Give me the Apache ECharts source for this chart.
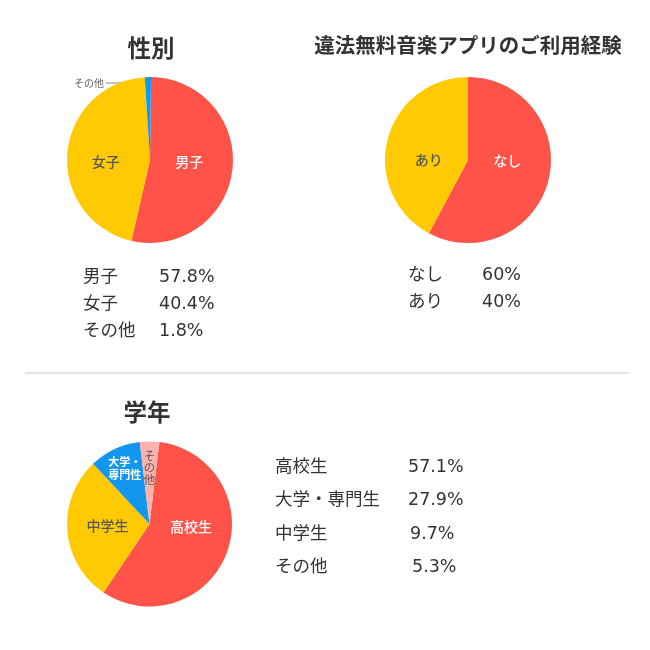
<!DOCTYPE html>
<html><head><meta charset="utf-8">
<script src="https://cdn.jsdelivr.net/npm/echarts@6/dist/echarts.min.js"></script>
<style>html,body{margin:0;padding:0;background:#fff}#c{width:650px;height:650px}</style>
</head><body><div id="c"></div>
<script>
// ---- data ----
const genderPieNames = ['男子', '女子', 'その他'];
const genderPieValues = [53.4, 45.4, 1.2];
const appPieNames = ['なし', 'あり'];
const appPieValues = [57.8, 42.2];
const gradePieNames = ['高校生', '中学生', '大学・\n専門性', 'そ\nの\n他'];
const gradePieValues = [57.5, 28.6, 10.1, 3.8];

const genderLabels = ['男子', '女子', 'その他'];
const genderPct = ['57.8%', '40.4%', '1.8%'];
const appLabels = ['なし', 'あり'];
const appPct = ['60%', '40%'];
const gradeLabels = ['高校生', '大学・専門生', '中学生', 'その他'];
const gradePct = ['57.1%', '27.9%', '9.7%', '5.3%'];

const titles = ['性別', '違法無料音楽アプリのご利用経験', '学年'];

// ---- style ----
const FF = '"Noto Sans CJK JP", "Noto Sans", sans-serif';
const FT = '"DejaVu Sans", "Noto Sans CJK JP", sans-serif';
const RED = '#FF5249', YEL = '#FFCA03', BLUE = '#1397EE', PINK = '#FFB1AE';
const DARK = '#333333', GRAY = '#585858';

const chart = echarts.init(document.getElementById('c'));

function txt(t, x, y, size, weight, align, family) {
  return { type: 'text', x: x, y: y, silent: true,
    style: { text: t, fontSize: size, fontWeight: weight, fontFamily: family || FF, fill: DARK,
      align: align || 'left', verticalAlign: 'middle' } };
}

const graphics = [];
graphics.push(txt(titles[0], 151, 48, 23.5, 'bold', 'center'));
graphics.push(txt(titles[1], 468, 45, 20.5, 'bold', 'center'));
graphics.push(txt(titles[2], 147, 412, 23.5, 'bold', 'center'));
genderLabels.forEach((l, i) => {
  graphics.push(txt(l, 83, 277 + i * 27, 17.5, 'normal', 'left', FT));
  graphics.push(txt(genderPct[i], 159, 277 + i * 27, 17.5, 'normal', 'left', FT));
});
appLabels.forEach((l, i) => {
  graphics.push(txt(l, 408, 275 + i * 27, 17.5, 'normal', 'left', FT));
  graphics.push(txt(appPct[i], 482, 275 + i * 27, 17.5, 'normal', 'left', FT));
});
const gradePctX = [408, 408, 410, 412];
gradeLabels.forEach((l, i) => {
  graphics.push(txt(l, 275, 467 + i * 33.5, 17.5, 'normal', 'left', FT));
  graphics.push(txt(gradePct[i], gradePctX[i], 467 + i * 33.5, 17.5, 'normal', 'left', FT));
});
graphics.push({ type: 'rect', shape: { x: 25, y: 372, width: 604, height: 2 }, style: { fill: '#e6e6e6' }, silent: true });

const base = { type: 'pie', animation: false, silent: true, clockwise: true,
  itemStyle: { borderWidth: 0 },
  label: { show: true, position: 'inside', fontFamily: FF, fontSize: 14, fontWeight: 500 },
  labelLine: { show: false }, emphasis: { disabled: true } };

function shift(offsets) {
  return function (p) {
    const d = offsets[p.dataIndex];
    return d ? { dx: d[0], dy: d[1] } : {};
  };
}

chart.setOption({
  backgroundColor: '#fff',
  graphic: graphics,
  series: [
    Object.assign({}, base, {
      center: [150, 160], radius: 83, startAngle: 89.3,
      data: genderPieNames.map((n, i) => ({
        name: n, value: genderPieValues[i],
        itemStyle: { color: [RED, YEL, BLUE][i] },
        label: i === 2
          ? { position: 'outside', fontSize: 10, fontWeight: 'normal', color: '#666', formatter: '{b}' }
          : { color: i === 0 ? '#fff' : GRAY, formatter: '{b}' },
        labelLine: i === 2 ? { show: true, lineStyle: { color: '#888', width: 1 } } : { show: false }
      })),
      labelLayout: function (p) {
        if (p.dataIndex !== 2) return shift([[-5, -4], [0, 5]])(p);
        if (!p.labelLinePoints) return {};
        const a = p.labelLinePoints[0];
        return { x: a[0] - 44, y: a[1] + 6, align: 'right', verticalAlign: 'middle',
          labelLinePoints: [[a[0] + 1, a[1] + 6], [a[0] - 20, a[1] + 6], [a[0] - 42, a[1] + 6]] };
      }
    }),
    Object.assign({}, base, {
      center: [468, 160], radius: 83, startAngle: 90,
      data: appPieNames.map((n, i) => ({
        name: n, value: appPieValues[i],
        itemStyle: { color: [RED, YEL][i] },
        label: { color: i === 0 ? '#fff' : GRAY, formatter: '{b}' }
      })),
      labelLayout: shift([[-4, -10], [4, 10]])
    }),
    Object.assign({}, base, {
      center: [149.5, 524], radius: 82.5, startAngle: 83.1,
      data: gradePieNames.map((n, i) => ({
        name: n, value: gradePieValues[i],
        itemStyle: { color: [RED, YEL, BLUE, PINK][i] },
        label: i >= 2
          ? { color: i === 2 ? '#fff' : GRAY, fontSize: i === 2 ? 11 : 11.5, fontWeight: i === 2 ? 'bold' : 'normal', lineHeight: i === 2 ? 13 : 12, align: 'center', formatter: '{b}' }
          : { color: i === 0 ? '#fff' : GRAY, formatter: '{b}' }
      })),
      labelLayout: shift([[0, -13], [2, -2], [-6, -16], [0, -12]])
    })
  ]
});
</script>
</body></html>
